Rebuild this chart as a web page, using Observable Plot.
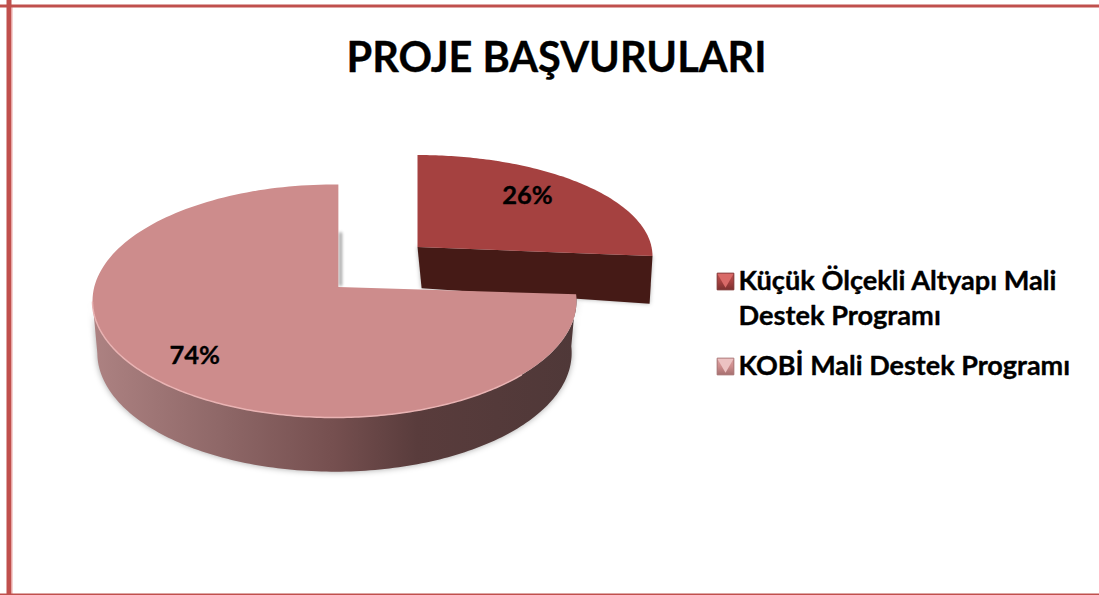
<!DOCTYPE html>
<html lang="tr">
<head>
<meta charset="utf-8">
<script src="https://cdn.jsdelivr.net/npm/d3@7"></script>
<script src="https://cdn.jsdelivr.net/npm/@observablehq/plot@0.6"></script>
<style>
html,body{margin:0;padding:0;background:#fff}
svg{display:block}
</style>
</head>
<body>
<div id="chart"></div>
<script>
const chartTitle = "PROJE BAŞVURULARI";
const categories = ["Küçük Ölçekli Altyapı Mali Destek Programı", "KOBİ Mali Destek Programı"];
const shares = [26, 74];
const topColors = ["#a54140", "#cd8c8c"];
const legendLines = [["Küçük Ölçekli Altyapı Mali", "Destek Programı"], ["KOBİ Mali Destek Programı"]];

const TAU = Math.PI * 2;
const split = shares[0] / 100 * TAU;

// ray from the (perspective-shifted) apex to the elliptical rim
function rim(e, a) {
  const dx = Math.sin(a), dy = Math.cos(a) * (e.k || 1);
  const px = (e.ax - e.cx) / e.rx, py = (e.ay - e.cy) / e.ry;
  const A = dx * dx + dy * dy, B = 2 * (px * dx + py * dy), C = px * px + py * py - 1;
  const s = (-B + Math.sqrt(B * B - 4 * A * C)) / (2 * A);
  return {x: e.cx + (px + s * dx) * e.rx, y: e.cy + (py + s * dy) * e.ry};
}
function arc(e, a0, a1, n = 160) {
  return d3.range(n + 1).map(i => rim(e, a0 + (a1 - a0) * i / n));
}
const mainTop = {cx: 0, cy: 0, rx: 1, ry: 1, ax: 0.016, ay: 0.12};
const mainBase = {cx: 0, cy: -0.445, rx: 0.98, ry: 1.02, ax: 0.016, ay: -0.325};
const sliceTop = {cx: 0.343, cy: 0.386, rx: 0.971, ry: 0.867, ax: 0.343, ay: 0.464, k: 1.43};
const sliceBase = {cx: 0.347, cy: -0.02, rx: 0.955, ry: 0.85, ax: 0.36, ay: 0.11, k: 2.54};

const apex = e => ({x: e.ax, y: e.ay});
const leftEnd = TAU * 0.731;
const mainFace = [apex(mainTop), ...arc(mainTop, split, TAU)];
const sliceFace = [apex(sliceTop), ...arc(sliceTop, 0, split, 80)];
const mainWall = [...arc(mainTop, split, leftEnd), ...arc(mainBase, leftEnd, split)];
const sliceWall = [apex(sliceTop), rim(sliceTop, split), rim(sliceBase, split), apex(sliceBase)];
const highlight = arc(mainTop, Math.PI * 0.75, TAU * 0.73);
const notchShadow = [{x: 0.025, y: 0.58}, {x: 0.025, y: 0.14}];

const defs = () => {
  const d = d3.create("svg:defs");
  const grad = (id, stops, x2 = "100%", y2 = "0%") => {
    const g = d.append("linearGradient").attr("id", id).attr("x1", "0%").attr("y1", "0%").attr("x2", x2).attr("y2", y2);
    stops.forEach(([o, c]) => g.append("stop").attr("offset", o).attr("stop-color", c));
  };
  grad("wall", [[0, "#ad8282"], [0.26, "#8f6868"], [0.5, "#754f4f"], [0.67, "#593c3c"], [1, "#4f3838"]]);
  grad("sw0", [[0, "#c0504f"], [0.5, "#a54140"], [1, "#7d3130"]], "0%", "100%");
  grad("sw1", [[0, "#dda3a3"], [0.5, "#cd8c8c"], [1, "#a56f6f"]], "0%", "100%");
  return d.node();
};

const poly = (pts, o) => Plot.line(pts, {x: "x", y: "y", stroke: "none", ...o});
const font = "Lato, Carlito, sans-serif";
const heavy = {fontWeight: 700, fontFamily: font, fill: "#000", stroke: "#000", strokeWidth: 0.35};
const px = (text, dx, dy, size, extra = {}) =>
  Plot.text([text], {frameAnchor: "top-left", dx, dy, text: d => d, fontSize: size, ...heavy,
    textAnchor: "start", lineAnchor: "middle", ...extra});

const swatch = (i, dy) => [
  Plot.dot([i], {frameAnchor: "top-left", dx: 725, dy, r: 9.4, symbol: "square", fill: `url(#sw${i})`, stroke: i ? "#a56f6f" : "#7d3130", strokeWidth: 1}),
  Plot.dot([i], {frameAnchor: "top-left", dx: 725, dy: dy - 3, r: 6, symbol: "triangle", rotate: 180, fill: i ? "#ecc2c2" : "#d96a68"})
];

const plot = Plot.plot({
  width: 1099,
  height: 595,
  margin: 0,
  style: {background: "#fff"},
  x: {domain: [-1, 1], range: [92, 576], axis: null},
  y: {domain: [-1, 1], range: [417, 184], axis: null},
  marks: [
    defs,
    // chart-area border
    Plot.frame({anchor: "left", stroke: "#c0504d", strokeWidth: 5, insetLeft: 8.5}),
    Plot.frame({anchor: "left", stroke: "#eda5a3", strokeWidth: 1, insetLeft: 11.5, insetTop: 7}),
    Plot.frame({anchor: "top", stroke: "#c0504d", strokeWidth: 3, insetTop: 5.5}),
    Plot.frame({anchor: "bottom", stroke: "#c0504d", strokeWidth: 3, insetBottom: 0.5}),
    // soft shadows
    poly(mainWall, {fill: "#000", fillOpacity: 0.35, imageFilter: "blur(3px)"}),
    poly(notchShadow, {stroke: "#444", strokeOpacity: 0.5, strokeWidth: 3, imageFilter: "blur(1.5px)"}),
    // exploded slice
    poly(sliceWall, {fill: "#000", fillOpacity: 0.3, imageFilter: "blur(2px)"}),
    poly(sliceWall, {fill: "#451a16"}),
    poly(sliceFace, {fill: topColors[0]}),
    // main sector
    poly(mainWall, {fill: "url(#wall)"}),
    poly(mainFace, {fill: topColors[1]}),
    poly(highlight, {stroke: "#e9b3b3", strokeWidth: 1.5}),
    // value labels
    Plot.text([shares[0]], {x: 0.797, y: 0.905, text: d => d + "%", fontSize: 25.5, ...heavy}),
    Plot.text([shares[1]], {x: -0.578, y: -0.47, text: d => d + "%", fontSize: 25.5, ...heavy}),
    // title and legend
    px(chartTitle, 556, 58, 41.5, {textAnchor: "middle"}),
    ...swatch(0, 281),
    px(legendLines[0][0], 738, 281, 27.2),
    px(legendLines[0][1], 738, 316, 27.2),
    ...swatch(1, 366),
    px(legendLines[1][0], 738, 366, 27)
  ]
});
plot.setAttribute("aria-label", categories.join(", "));
document.getElementById("chart").append(plot);
</script>
</body>
</html>
